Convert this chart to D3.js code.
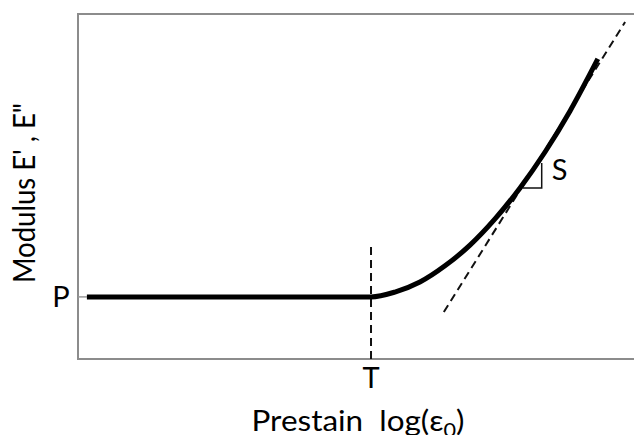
<!DOCTYPE html>
<html>
<head>
<meta charset="utf-8">
<script src="https://cdn.jsdelivr.net/npm/d3@7"></script>
<style>
  body { margin: 0; background: #fff; }
  text { font-family: Lato, 'Open Sans', sans-serif; fill: #000; }
</style>
</head>
<body>
<script>
// schematic: modulus vs log prestain (values in arbitrary units, 0-100)
const curveX = [1.6, 52.7, 57.0, 61.5, 66.0, 70.5, 75.0, 79.5, 84.0, 88.5, 93.5];
const curveY = [18.0, 18.0, 19.4, 22.3, 27.0, 33.0, 40.6, 49.6, 60.0, 71.9, 87.0];
const tangentX = [65.8, 98.4];
const tangentY = [13.6, 97.7];
const thresholdX = 52.7;
const thresholdTop = 32.5;
const plateauY = 18.0;
const slopeX = [80.0, 83.4];
const slopeY = [49.6, 56.8];

const width = 634, height = 435;
const margin = { left: 78, top: 14, right: 0, bottom: 76 };

const svg = d3
  .select('body')
  .append('svg')
  .attr('width', width)
  .attr('height', height);

const x = d3.scaleLinear().domain([0, 100]).range([margin.left, width - margin.right]);
const y = d3.scaleLinear().domain([0, 100]).range([height - margin.bottom, margin.top]);

// frame (open on the right, runs off the picture)
svg
  .append('path')
  .attr('d', `M${width + 5},${y(100)}H${x(0)}V${y(0)}H${width + 5}`)
  .attr('fill', 'none')
  .attr('stroke', '#8c8c8c')
  .attr('stroke-width', 2);

// small tick at P
svg
  .append('line')
  .attr('x1', x(0))
  .attr('x2', x(curveX[0]))
  .attr('y1', y(plateauY))
  .attr('y2', y(plateauY))
  .attr('stroke', '#999')
  .attr('stroke-width', 1.5);

// threshold dashed line
svg
  .append('line')
  .attr('x1', x(thresholdX))
  .attr('x2', x(thresholdX))
  .attr('y1', y(thresholdTop))
  .attr('y2', y(0))
  .attr('stroke', '#111')
  .attr('stroke-width', 2)
  .attr('stroke-dasharray', '8,5');

const line = d3
  .line()
  .x((d) => x(d[0]))
  .y((d) => y(d[1]));

// tangent dashed line
svg
  .append('path')
  .datum(d3.zip(tangentX, tangentY))
  .attr('d', line)
  .attr('fill', 'none')
  .attr('stroke', '#111')
  .attr('stroke-width', 2)
  .attr('stroke-dasharray', '8,5');

// slope triangle
svg
  .append('path')
  .attr(
    'd',
    `M${x(slopeX[0])},${y(slopeY[0])}H${x(slopeX[1])}V${y(slopeY[1])}`
  )
  .attr('fill', 'none')
  .attr('stroke', '#111')
  .attr('stroke-width', 1.5);

// main curve
svg
  .append('path')
  .datum(d3.zip(curveX, curveY))
  .attr('d', line.curve(d3.curveMonotoneX))
  .attr('fill', 'none')
  .attr('stroke', '#000')
  .attr('stroke-width', 5);

// labels
function label(txt, px, py, size) {
  return svg
    .append('text')
    .attr('x', px)
    .attr('y', py)
    .attr('text-anchor', 'middle')
    .style('font-size', size + 'px')
    .text(txt);
}

label('P', x(0) - 17, y(plateauY) + 10, 29);
label('T', x(thresholdX), 388, 29);
label('S', x(slopeX[1]) + 18, y(slopeY[0]) - 8, 29);

// fit a text group to a target width (the original font is narrow)
function fit(g, target) {
  const bb = g.select('text').node().getBBox();
  const k = target / bb.width;
  g.attr('transform', g.attr('transform') + ` scale(${k},1)`);
}

const xl = svg.append('g').attr('transform', 'translate(358,431)');
const xt = xl
  .append('text')
  .attr('text-anchor', 'middle')
  .style('font-size', '29px');
xt.append('tspan').text('Prestain\u00a0\u00a0log(\u03b5');
xt.append('tspan').attr('dy', 6).style('font-size', '20px').text('0');
xt.append('tspan').attr('dy', -6).text(')');
fit(xl, 213);

const yl = svg.append('g').attr('transform', 'translate(35,193) rotate(-90)');
yl.append('text')
  .attr('text-anchor', 'middle')
  .style('font-size', '30px')
  .text("Modulus  E' ,  E\"");
fit(yl, 180);
</script>
</body>
</html>
